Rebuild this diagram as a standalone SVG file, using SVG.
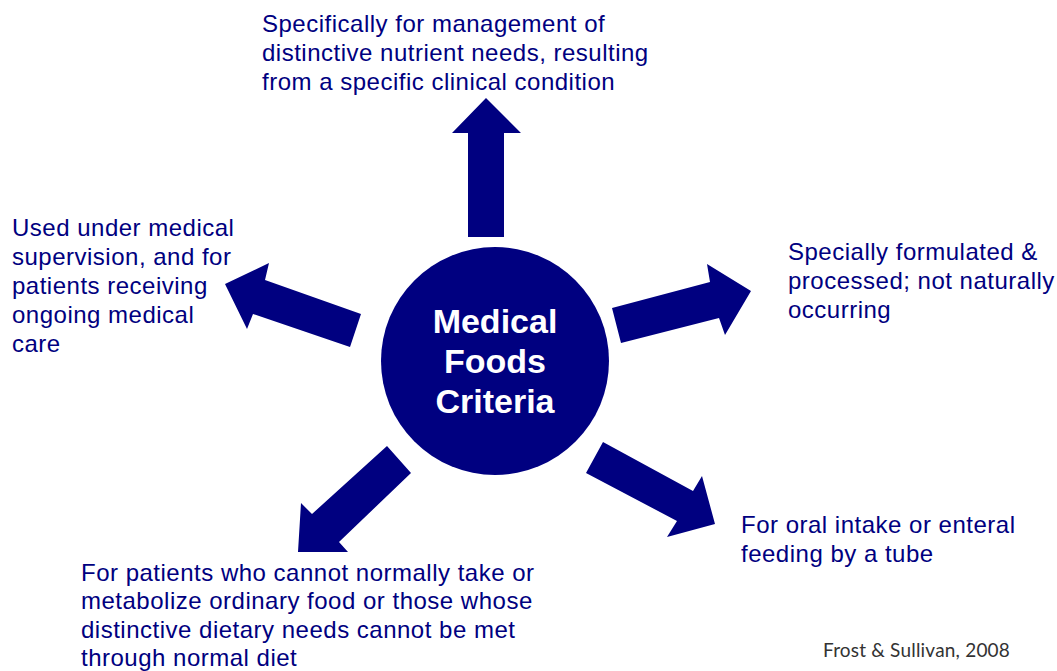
<svg xmlns="http://www.w3.org/2000/svg" width="1057" height="671" viewBox="0 0 1057 671">
<style>
.lbl{font-family:"Liberation Sans",Arial,sans-serif;font-size:24px;letter-spacing:0.5px;fill:#000080}
.ctr{font-family:"Liberation Sans",Arial,sans-serif;font-size:34px;font-weight:bold;fill:#ffffff;text-anchor:middle}
.arr{fill:#000080;stroke:none}
.cred{font-family:Lato,"Open Sans",sans-serif;font-size:19px;letter-spacing:0.2px;fill:#333333}
</style>
<rect width="1057" height="671" fill="#ffffff"/>
<g id="connectors">
<polygon class="arr" points="486,98 521,133 504,133 504,237 468,237 468,133 452,133"/>
<polygon class="arr" points="612,308 710,282 707,264 751,291 725,335 719,318 621,343"/>
<polygon class="arr" points="603,442 693,491 702,476 715,524 667,537 677,521 586,473"/>
<polygon class="arr" points="387,446 411,473 339,542 348,552 298,552 301,503 312,514"/>
<polygon class="arr" points="361,314 350,347 253,314 247,329 225,284 269,263 265,280"/>
</g>
<g id="center">
<circle cx="495" cy="361" r="114" fill="#000080"/>
<text class="ctr" x="495" y="333">Medical</text>
<text class="ctr" x="495" y="373">Foods</text>
<text class="ctr" x="495" y="413">Criteria</text>
</g>
<g id="top">
<text class="lbl" x="262" y="32">Specifically for management of</text>
<text class="lbl" x="262" y="61">distinctive nutrient needs, resulting</text>
<text class="lbl" x="262" y="90">from a specific clinical condition</text>
</g>
<g id="right">
<text class="lbl" x="788" y="260">Specially formulated &amp;</text>
<text class="lbl" x="788" y="289">processed; not naturally</text>
<text class="lbl" x="788" y="318">occurring</text>
</g>
<g id="lower-right">
<text class="lbl" x="741" y="533">For oral intake or enteral</text>
<text class="lbl" x="741" y="562">feeding by a tube</text>
</g>
<g id="bottom">
<text class="lbl" x="81" y="581">For patients who cannot normally take or</text>
<text class="lbl" x="81" y="609">metabolize ordinary food or those whose</text>
<text class="lbl" x="81" y="638">distinctive dietary needs cannot be met</text>
<text class="lbl" x="81" y="666">through normal diet</text>
</g>
<g id="left">
<text class="lbl" x="12" y="236">Used under medical</text>
<text class="lbl" x="12" y="265">supervision, and for</text>
<text class="lbl" x="12" y="294">patients receiving</text>
<text class="lbl" x="12" y="323">ongoing medical</text>
<text class="lbl" x="12" y="352">care</text>
</g>
<g id="credit">
<text class="cred" x="823" y="657">Frost &amp; Sullivan, 2008</text>
</g>
</svg>
